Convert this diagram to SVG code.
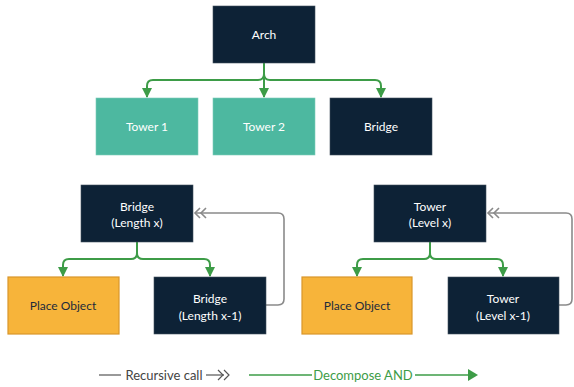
<svg xmlns="http://www.w3.org/2000/svg" width="574" height="387" viewBox="0 0 574 387">
<style>
.dark{fill:#0d2236;stroke:#42505e;stroke-width:0.6}
.teal{fill:#4db8a0;stroke:#7ccbb8;stroke-width:0.6}
.orange{fill:#f7b43a;stroke:#d9962a;stroke-width:1.2}
text{font-family:Lato,"Open Sans",sans-serif;font-size:12px;text-anchor:middle}
.w{fill:#ffffff}
.d{fill:#1d2b3a}
.g{fill:none;stroke:#3d9c47;stroke-width:2}
.r{fill:none;stroke:#8a8a8a;stroke-width:1.6}
.lg{font-size:13px}
</style>
<defs>
<marker id="ga" viewBox="0 0 10 10" refX="9" refY="5" markerWidth="5" markerHeight="5" orient="auto-start-reverse" markerUnits="strokeWidth">
<path d="M0,0 L10,5 L0,10 z" fill="#3d9c47"/>
</marker>
<path id="chev" d="M6,-5 L1,0 L6,5 M12,-5 L7,0 L12,5" fill="none" stroke="#8a8a8a" stroke-width="1.6"/>
</defs>
<rect width="574" height="387" fill="#ffffff"/>
<g id="connectors">
<path class="g" d="M264,63 V74 Q264,80 258,80 H153 Q147,80 147,86 V97" marker-end="url(#ga)"/>
<path class="g" d="M264,63 V97" marker-end="url(#ga)"/>
<path class="g" d="M264,63 V74 Q264,80 270,80 H375 Q381,80 381,86 V97" marker-end="url(#ga)"/>
<path class="g" d="M137,242 V253 Q137,259 131,259 H69 Q63,259 63,265 V276" marker-end="url(#ga)"/>
<path class="g" d="M137,242 V253 Q137,259 143,259 H204 Q210,259 210,265 V276" marker-end="url(#ga)"/>
<path class="g" d="M430,242 V253 Q430,259 424,259 H363 Q357,259 357,265 V276" marker-end="url(#ga)"/>
<path class="g" d="M430,242 V253 Q430,259 436,259 H497 Q503,259 503,265 V276" marker-end="url(#ga)"/>
<path class="r" d="M266,305 H278 Q284,305 284,299 V219 Q284,213 278,213 H195"/>
<use href="#chev" x="194" y="213"/>
<path class="r" d="M559,305 H566 Q572,305 572,299 V219 Q572,213 566,213 H488"/>
<use href="#chev" x="487" y="213"/>
</g>
<g id="arch"><rect class="dark" x="213" y="6" width="102" height="57"/><text class="w" x="264" y="39">Arch</text></g>
<g id="tower1"><rect class="teal" x="96" y="98" width="102" height="57"/><text class="w" x="147" y="131">Tower 1</text></g>
<g id="tower2"><rect class="teal" x="213" y="98" width="102" height="57"/><text class="w" x="264" y="131">Tower 2</text></g>
<g id="bridge"><rect class="dark" x="330" y="98" width="102" height="57"/><text class="w" x="381" y="131">Bridge</text></g>
<g id="bridge-x"><rect class="dark" x="81" y="185" width="112" height="57"/><text class="w" x="137" y="211">Bridge</text><text class="w" x="137" y="227">(Length x)</text></g>
<g id="place1"><rect class="orange" x="8" y="277" width="111" height="57"/><text class="d" x="63" y="310">Place Object</text></g>
<g id="bridge-x1"><rect class="dark" x="154" y="277" width="112" height="57"/><text class="w" x="210" y="303">Bridge</text><text class="w" x="210" y="320">(Length x-1)</text></g>
<g id="tower-x"><rect class="dark" x="374" y="185" width="112" height="57"/><text class="w" x="430" y="211">Tower</text><text class="w" x="430" y="227">(Level x)</text></g>
<g id="place2"><rect class="orange" x="302" y="277" width="110" height="57"/><text class="d" x="357" y="310">Place Object</text></g>
<g id="tower-x1"><rect class="dark" x="448" y="277" width="111" height="57"/><text class="w" x="503" y="303">Tower</text><text class="w" x="503" y="320">(Level x-1)</text></g>
<g id="legend">
<line x1="99" y1="375" x2="121" y2="375" stroke="#555" stroke-width="1.2"/>
<text class="lg" x="164" y="379.5" fill="#444">Recursive call</text>
<line x1="206" y1="375" x2="224" y2="375" stroke="#555" stroke-width="1.2"/>
<path d="M218,370 L223,375 L218,380 M224,370 L229,375 L224,380" fill="none" stroke="#555" stroke-width="1.2"/>
<line x1="249" y1="375" x2="312" y2="375" stroke="#3d9c47" stroke-width="1.6"/>
<text class="lg" x="363" y="379.5" fill="#3d9c47">Decompose AND</text>
<line x1="415" y1="375" x2="470" y2="375" stroke="#3d9c47" stroke-width="1.6"/>
<path d="M468,369 L478,375 L468,381 z" fill="#3d9c47"/>
</g>
</svg>
